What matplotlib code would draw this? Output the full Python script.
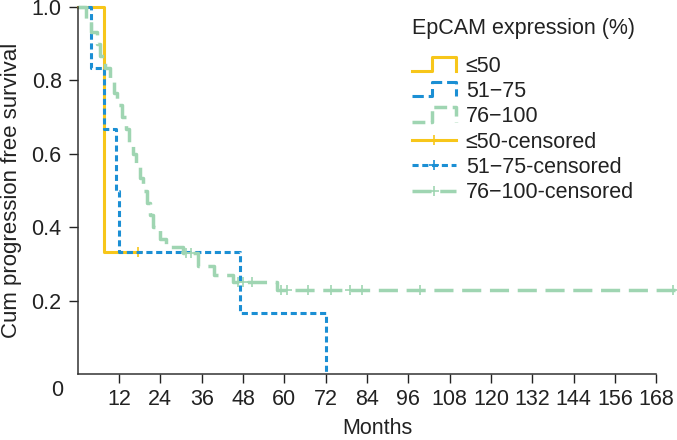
import matplotlib.pyplot as plt
import numpy as np
from matplotlib.legend_handler import HandlerBase
from matplotlib.lines import Line2D

plt.rcParams['font.family'] = ['Liberation Sans', 'DejaVu Sans']

# ── Data ─────────────────────────────────────────────────────────────────────
# step times (months) and survival after each step
low_t = [0, 7.7]
low_s = [1.0, 0.333]
low_end = 17.5
low_cens = [17.5]

mid_t = [0, 3.8, 7.7, 11.2, 12.0, 47.0, 72.0]
mid_s = [1.0, 0.833, 0.667, 0.500, 0.333, 0.167, 0.0]
mid_end = 72.0
mid_cens = []

high_t = [0, 2.5, 4.0, 5.5, 6.5, 8.0, 9.5, 10.5, 11.5, 13.0, 14.0, 15.0, 16.0,
          17.0, 18.0, 19.0, 20.0, 21.0, 22.0, 24.0, 25.5, 30.5, 35.0, 39.5,
          45.0, 57.8]
high_s = [1.0, 0.967, 0.933, 0.900, 0.867, 0.833, 0.800, 0.767, 0.733, 0.700,
          0.667, 0.633, 0.600, 0.567, 0.533, 0.500, 0.467, 0.433, 0.400,
          0.367, 0.345, 0.330, 0.293, 0.270, 0.250, 0.229]
high_end = 173.5
high_cens = [31.5, 33.0, 46.5, 48.0, 50.5, 59.0, 60.8, 67.0, 73.5, 79.0,
             82.5, 99.5, 173.0]

groups = ["≤50", "51−75", "76−100"]
x_ticks = list(range(12, 169, 12))
y_ticks = [0.2, 0.4, 0.6, 0.8, 1.0]

YELLOW = "#f7c61a"
BLUE = "#1b8fd4"
GREEN = "#9fd5b2"

# ── Figure ───────────────────────────────────────────────────────────────────
fig = plt.figure(figsize=(6.77, 4.40), dpi=100)
ax = fig.add_axes([0.1148, 0.15, 0.885, 0.834])

styles = [
    dict(color=YELLOW, lw=2.2, ls="-"),
    dict(color=BLUE, lw=2.2, ls=(0, (2.0, 1.2))),
    dict(color=GREEN, lw=2.5, ls=(0, (5.5, 2.5))),
]
series = [(low_t, low_s, low_end, low_cens),
          (mid_t, mid_s, mid_end, mid_cens),
          (high_t, high_s, high_end, high_cens)]


def surv_at(t, times, surv):
    idx = np.searchsorted(times, t, side="right") - 1
    return surv[idx]


for (t, s, end, cens), st in zip(series, styles):
    xs = list(t) + [end]
    ys = list(s) + [s[-1]]
    ax.step(xs, ys, where="post", clip_on=False, **st)
    if cens:
        cy = [surv_at(c, t, s) for c in cens]
        ax.plot(cens, cy, ls="none", marker="+", ms=7, mew=1.2,
                color=st["color"], clip_on=False)

# ── Axis styling ─────────────────────────────────────────────────────────────
ax.set_xlim(0, 174)
ax.set_ylim(0, 1.0)
ax.set_xticks(x_ticks)
ax.set_yticks(y_ticks)
ax.set_yticklabels([f"{v:.1f}" for v in y_ticks])
ax.tick_params(labelsize=15.5, length=6.5, width=1.0, colors="#222")
ax.tick_params(axis="y", pad=5)
ax.tick_params(axis="x", pad=4)
for s in ["top", "right"]:
    ax.spines[s].set_visible(False)
for s in ["left", "bottom"]:
    ax.spines[s].set_color("#333")
    ax.spines[s].set_linewidth(1.1)
ax.spines["bottom"].set_bounds(0, 168)
ax.set_xlabel("Months", fontsize=15.5, color="#222", labelpad=6)
ax.set_ylabel("Cum progression free survival", fontsize=16, color="#222",
              labelpad=7)
fig.text(57 / 677, 1 - 390 / 440, "0", fontsize=15.5, color="#222",
         ha="center", va="center")


# ── Legend with step-shaped handles ──────────────────────────────────────────
class StepHandler(HandlerBase):
    def create_artists(self, legend, orig_handle, xdescent, ydescent,
                       width, height, fontsize, trans):
        x0 = -xdescent
        y0 = -ydescent
        xs = np.array([0, 0.45, 0.45, 1.0, 1.0]) * width + x0
        ys = np.array([0.05, 0.05, 1.0, 1.0, 0.05]) * height + y0
        line = Line2D(xs, ys, color=orig_handle.get_color(),
                      lw=orig_handle.get_linewidth(),
                      ls=orig_handle.get_linestyle(), transform=trans)
        return [line]


step_handles = [Line2D([], [], **st) for st in styles]
cens_handles = [Line2D([], [], marker="+", ms=7, mew=1.2, **st) for st in styles]
labels = groups + [g + "-censored" for g in groups]
handler_map = {h: StepHandler() for h in step_handles}
leg = ax.legend(step_handles + cens_handles, labels, handler_map=handler_map,
                title="EpCAM expression (%)", fontsize=15.5, title_fontsize=15.5,
                loc="upper left", bbox_to_anchor=(412 / 677, 1 - 18 / 440),
                bbox_transform=fig.transFigure, frameon=False, numpoints=1,
                handlelength=2.05, handletextpad=0.45, labelspacing=0.2,
                borderaxespad=0, borderpad=0)
leg._legend_box.align = "left"
leg._legend_box.sep = 12
for txt in leg.get_texts():
    txt.set_color("#222")
leg.get_title().set_color("#222")

fig.savefig("out.png", dpi=100)
